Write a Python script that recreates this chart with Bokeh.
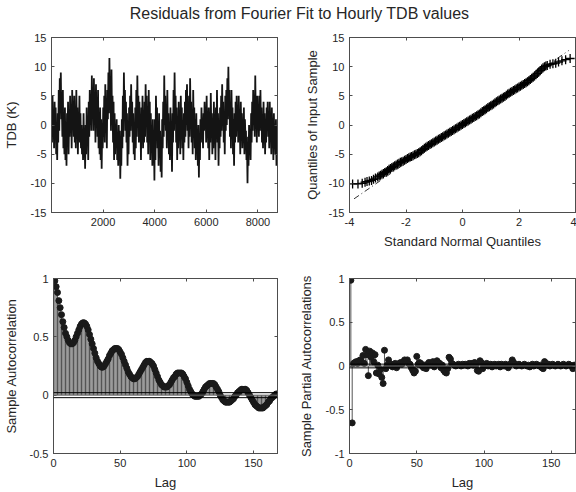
import numpy as np
from bokeh.plotting import figure
from bokeh.layouts import column, row
from bokeh.models import FixedTicker, LinearAxis, Range1d, CustomJSTickFormatter, Span
from bokeh.embed import file_html
from bokeh.resources import INLINE

# ---------------- data ----------------
title_text = "Residuals from Fourier Fit to Hourly TDB values"

# residual series, sampled evenly over hours 1..8760 (envelope of the dense trace)
tdb_values = [
    2, -3, 5, -2, 1, -4, 4, -1, 3, -5, 0, -6, 2, -3, 6, -1, 8, 2, 9, 1,
    4, -2, 6, -4, 1, -5, 3, -6, 0, -7, 2, -3, 4, -5, 1, -2, 5, -1, 3, -4,
    6, 0, 4, -2, 5, -3, 2, -4, 6, -1, 3, -5, 1, -2, 5, -3, 2, -4, 0, -5,
    -1, -6, 2, -4, -2, -7.5, 0, -5, 3, -3, 1, -6, 4, -2, 6, 0, 5, -1, 8.5, 2,
    6, -1, 8, 1, 5, -3, 7, 0, 4, -2, 6, -4, 2, -5, 3, -6, 1, -7.5, 0, -4,
    3, -2, 5, -3, 7, 0, 4, -4, 6, 1, 9, 2, 11.5, 3, 8, -1, 9.5, 0, 5, -3,
    4, -6, 2, -5, 0, -3, 1, -6, -2, -7, 0, -5, -1, -9.2, -3, -7, 1, -4, 5, -2,
    9, 2, 6, -1, 4, -3, 2, -7, -1, -5, 3, -2, 5, -1, 7, 0, 4, -3, 2, -5,
    0, -6, 3, -4, 6, -2, 8.5, 1, 5, -3, 4, -2, 1, -6, 3, -1, 5, -4, 2, -3,
    4, -2, 7, 0, 5, -3, 3, -5, 6, -1, 4, -6, 2, -4, 0, -7, 1, -5, -2, -9.5,
    1, -6, 5, -2, 3, -4, 0, -7, 2, -5, -1, -8, -3, -9, 1, -4, 4, -2, 8.5, 0,
    5, -1, 3, -4, 6, -2, 2, -5, 0, -6, 3, -4, -1, -8, 2, -3, 6, -1, 9, 1,
    5, -3, 3, -6, 1, -4, 4, -2, 2, -5, 5, -1, 3, -4, 0, -6, 2, -3, 4, -2,
    6, 0, 7, -1, 3, -4, 5, -2, 8, 1, 4, -3, 2, -5, 6, -1, 3, -4, 1, -6,
    2, -5, -1, -7, 0, -9, -2, -6, 1, -3, 3, -2, 0, -4, 2, -1, 4, 0, 3, -3,
    5, -2, 1, -4, 3, -6, 0, -3, 5.5, -1, 2, -5, 0, -4, 4, -2, 1, -6, 3, -2,
    6, -3, 2, -7, 0, -4, 3, -2, 5, -1, 7, 0, 4, -3, 2, -5, 5, -1, 6, 0,
    8, 1, 10, 2, 6, -2, 4, -4, 6, 0, 3, -5, 1, -7, 2, -3, 4, -2, 5, -1,
    3, -3, 5, -2, 1, -5, 4, -1, 2, -4, 0, -3, 3, -5, 1, -2, -1, -6, -3, -10,
    -2, -7, 0, -5, -1, -6, 2, -3, 4, -1, 6, 0, 5, -2, 8.5, 1, 4, -3, 5, 0,
    3, -2, 5, -1, 6, 0, 3, -3, 1, -4, 4, -2, 2, -5, 0, -3, 3, -1, 4, -2,
    2, -4, 4, -1, 1, -5, 3, -2, 0, -6, 2, -3, -1, -5, 1, -7, 0, -4,
]
tdb_first_hour, tdb_last_hour = 1, 8760

# QQ plot: (standard normal quantile, sample quantile)
qq_pairs = [
    (-3.89, -10.1), (-3.70, -10.1), (-3.55, -10.0), (-3.45, -9.8), (-3.38, -9.7),
    (-3.30, -9.6), (-3.22, -9.5), (-3.15, -9.3), (-3.08, -9.1),
    (-3.00, -8.9), (-2.95, -8.75), (-2.90, -8.6), (-2.85, -8.45), (-2.80, -8.3),
    (-2.75, -8.15), (-2.70, -8.0), (-2.65, -7.8), (-2.60, -7.6), (-2.55, -7.45),
    (-2.50, -7.3), (-2.45, -7.15), (-2.40, -7.0), (-2.35, -6.85), (-2.30, -6.7),
    (-2.25, -6.55), (-2.20, -6.4), (-2.15, -6.3), (-2.10, -6.2), (-2.05, -6.05),
    (-2.00, -5.9), (-1.95, -5.75), (-1.90, -5.6), (-1.85, -5.5), (-1.80, -5.4),
    (-1.75, -5.25), (-1.70, -5.1), (-1.65, -5.0), (-1.60, -4.9), (-1.55, -4.75),
    (-1.50, -4.6), (-1.45, -4.4), (-1.40, -4.2), (-1.35, -4.0), (-1.30, -3.8),
    (-1.25, -3.65), (-1.20, -3.5), (-1.15, -3.35), (-1.10, -3.2), (-1.05, -3.05),
    (-1.00, -2.9), (-0.95, -2.75), (-0.90, -2.6), (-0.85, -2.45), (-0.80, -2.3),
    (-0.75, -2.15), (-0.70, -2.0), (-0.65, -1.85), (-0.60, -1.7), (-0.55, -1.55),
    (-0.50, -1.4), (-0.45, -1.25), (-0.40, -1.1), (-0.35, -0.95), (-0.30, -0.8),
    (-0.25, -0.65), (-0.20, -0.5), (-0.15, -0.35), (-0.10, -0.2), (-0.05, -0.05),
    (0.00, 0.1), (0.05, 0.25), (0.10, 0.4), (0.15, 0.55), (0.20, 0.7),
    (0.25, 0.85), (0.30, 1.0), (0.35, 1.15), (0.40, 1.3), (0.45, 1.45),
    (0.50, 1.6), (0.55, 1.75), (0.60, 1.9), (0.65, 2.1), (0.70, 2.3),
    (0.75, 2.45), (0.80, 2.6), (0.85, 2.8), (0.90, 3.0), (0.95, 3.15),
    (1.00, 3.3), (1.05, 3.45), (1.10, 3.6), (1.15, 3.8), (1.20, 4.0),
    (1.25, 4.15), (1.30, 4.3), (1.35, 4.45), (1.40, 4.6), (1.45, 4.75),
    (1.50, 4.9), (1.55, 5.1), (1.60, 5.3), (1.65, 5.45), (1.70, 5.6),
    (1.75, 5.75), (1.80, 5.9), (1.85, 6.05), (1.90, 6.2), (1.95, 6.35),
    (2.00, 6.5), (2.05, 6.65), (2.10, 6.8), (2.15, 6.95), (2.20, 7.1),
    (2.25, 7.25), (2.30, 7.4), (2.35, 7.6), (2.40, 7.8), (2.45, 8.0),
    (2.50, 8.2), (2.55, 8.4), (2.60, 8.6), (2.65, 8.85), (2.70, 9.1),
    (2.75, 9.35), (2.80, 9.6), (2.85, 9.8), (2.90, 10.0), (2.95, 10.1),
    (3.00, 10.2), (3.10, 10.4), (3.20, 10.5), (3.30, 10.6), (3.40, 10.8),
    (3.52, 11.0), (3.65, 11.2), (3.81, 11.4),
]
qq_x = [p[0] for p in qq_pairs]
qq_y = [p[1] for p in qq_pairs]
qq_line_x = [-3.84, 3.76]
qq_line_y = [-12.66, 12.77]

# sample autocorrelation, lags 0..168
acf = [
    1.00, 0.98, 0.93, 0.88, 0.81, 0.75, 0.69, 0.63, 0.58, 0.53, 0.50, 0.47,
    0.45, 0.44, 0.44, 0.45, 0.47, 0.50, 0.53, 0.56, 0.59, 0.61, 0.62, 0.62,
    0.61, 0.59, 0.56, 0.52, 0.48, 0.44, 0.40, 0.36, 0.32, 0.29, 0.27, 0.25,
    0.24, 0.24, 0.25, 0.27, 0.29, 0.31, 0.34, 0.36, 0.38, 0.39, 0.40, 0.40,
    0.40, 0.39, 0.37, 0.35, 0.32, 0.29, 0.26, 0.23, 0.20, 0.18, 0.16, 0.15,
    0.14, 0.14, 0.15, 0.16, 0.18, 0.20, 0.22, 0.24, 0.26, 0.28, 0.29, 0.29,
    0.29, 0.28, 0.27, 0.25, 0.22, 0.19, 0.16, 0.13, 0.11, 0.09, 0.08, 0.07,
    0.07, 0.07, 0.08, 0.09, 0.11, 0.13, 0.15, 0.16, 0.18, 0.19, 0.19, 0.19,
    0.19, 0.18, 0.16, 0.14, 0.11, 0.08, 0.05, 0.03, 0.01, 0.00, -0.01, -0.01,
    -0.01, -0.01, 0.00, 0.01, 0.03, 0.05, 0.07, 0.08, 0.09, 0.10, 0.10, 0.10,
    0.10, 0.09, 0.07, 0.05, 0.03, 0.00, -0.02, -0.04, -0.05, -0.06, -0.06, -0.06,
    -0.06, -0.05, -0.04, -0.03, -0.01, 0.00, 0.02, 0.03, 0.04, 0.05, 0.05, 0.05,
    0.05, 0.04, 0.02, 0.00, -0.02, -0.04, -0.06, -0.08, -0.09, -0.10, -0.11, -0.11,
    -0.11, -0.11, -0.10, -0.09, -0.08, -0.06, -0.05, -0.03, -0.02, -0.01, 0.00, 0.01,
    0.01,
]

# sample partial autocorrelation, lags 0..168
pacf = [
    1.00, 0.98, -0.65, 0.03, 0.04, 0.05, 0.03, 0.06, 0.07, 0.05, 0.12, 0.03,
    0.19, 0.13, -0.11, 0.17, 0.10, 0.15, 0.05, 0.13, -0.08, 0.01, -0.09, -0.04,
    -0.13, -0.20, 0.18, -0.03, 0.01, 0.07, 0.01, 0.02, -0.01, 0.02, 0.03, -0.02,
    0.01, 0.03, 0.04, 0.02, 0.05, 0.07, 0.06, 0.07, 0.03, 0.02, -0.02, -0.05,
    -0.08, -0.06, 0.11, 0.02, 0.04, 0.03, 0.00, -0.02, 0.01, -0.03, 0.02, 0.04,
    0.01, 0.03, 0.05, -0.01, 0.02, 0.06, 0.04, 0.03, -0.02, 0.01, -0.05, -0.07,
    -0.08, -0.03, 0.10, 0.08, 0.03, 0.02, 0.01, 0.00, 0.01, 0.02, 0.01, 0.00,
    0.02, 0.01, 0.02, 0.01, 0.00, 0.03, 0.02, 0.03, 0.01, 0.04, 0.02, -0.05,
    -0.06, 0.06, 0.04, -0.03, 0.02, 0.01, 0.03, 0.00, 0.01, 0.02, -0.01, 0.01,
    0.02, 0.00, 0.01, 0.02, -0.01, 0.02, 0.01, 0.00, 0.02, 0.01, -0.02, 0.01,
    0.03, 0.07, 0.04, 0.02, 0.00, 0.01, 0.02, 0.01, 0.00, 0.01, 0.02, 0.01,
    0.00, 0.01, -0.01, 0.01, 0.02, 0.00, 0.01, 0.02, 0.01, 0.00, 0.01, -0.02,
    -0.03, 0.05, 0.03, 0.01, 0.02, 0.00, 0.01, 0.02, 0.01, 0.00, 0.01, 0.02,
    0.01, 0.00, 0.01, 0.02, 0.01, 0.00, 0.01, 0.02, 0.01, 0.00, -0.03, 0.01,
    0.01,
]
conf_bound = 0.0214  # approximate 95% bound drawn on ACF / PACF panels

tl_xticks = [2000, 4000, 6000, 8000]
tl_yticks = [-15, -10, -5, 0, 5, 10, 15]
tr_xticks = [-4, -2, 0, 2, 4]
tr_yticks = [-15, -10, -5, 0, 5, 10, 15]
lag_xticks = [0, 50, 100, 150]
bl_yticks = [-0.5, 0, 0.5, 1]
br_yticks = [-1, -0.5, 0, 0.5, 1]

# ---------------- styling ----------------
FONT = "Liberation Sans"
TXT = "#262626"
AX = "#4d4d4d"
TICK_FS = "11px"
LABEL_FS = "13px"


def make_fig(width, height, left, right, top, bottom, xr, yr):
    p = figure(width=width, height=height, x_range=Range1d(*xr), y_range=Range1d(*yr),
               toolbar_location=None, output_backend="svg",
               min_border_left=left, min_border_right=right,
               min_border_top=top, min_border_bottom=bottom)
    p.xgrid.visible = False
    p.ygrid.visible = False
    p.outline_line_color = AX
    p.outline_line_width = 1
    p.background_fill_color = "white"
    p.border_fill_color = "white"
    return p


def style_axis(ax, ticks, label=None, label_standoff=5):
    ax.ticker = FixedTicker(ticks=ticks)
    ax.formatter = CustomJSTickFormatter(code="return tick.toString()")
    ax.major_tick_in = 3
    ax.major_tick_out = 0
    ax.minor_tick_line_color = None
    ax.axis_line_color = AX
    ax.major_tick_line_color = AX
    ax.major_label_text_font = FONT
    ax.major_label_text_font_size = TICK_FS
    ax.major_label_text_color = TXT
    ax.major_label_standoff = 5
    if label is not None:
        ax.axis_label = label
        ax.axis_label_text_font = FONT
        ax.axis_label_text_font_size = LABEL_FS
        ax.axis_label_text_font_style = "normal"
        ax.axis_label_text_color = TXT
        ax.axis_label_standoff = label_standoff


def mirror(p, xticks, yticks):
    # tick marks on the top and right edges (no labels)
    for ticks, side in ((xticks, "above"), (yticks, "right")):
        a = LinearAxis(ticker=FixedTicker(ticks=ticks), major_label_text_font_size="0px",
                       major_label_text_color=None,
                       major_tick_in=3, major_tick_out=0, minor_tick_line_color=None,
                       axis_line_color=AX, major_tick_line_color=AX,
                       major_label_standoff=0)
        p.add_layout(a, side)


def setup(p, xticks, yticks, xlabel, ylabel, ylab_standoff):
    style_axis(p.xaxis[0], xticks, xlabel, 5)
    style_axis(p.yaxis[0], yticks, ylabel, ylab_standoff)
    mirror(p, xticks, yticks)


# ---------------- title ----------------
tp = figure(width=576, height=26, toolbar_location=None, output_backend="svg",
            x_axis_type=None, y_axis_type=None, min_border=0, min_border_left=22,
            title=title_text)
tp.title.align = "center"
tp.title.text_font = FONT
tp.title.text_font_size = "16px"
tp.title.text_font_style = "normal"
tp.title.text_color = TXT
tp.outline_line_color = None
tp.xgrid.visible = False
tp.ygrid.visible = False

# ---------------- top-left: time series ----------------
tl = make_fig(290, 229, 50, 13, 11, 43, (tdb_first_hour, tdb_last_hour), (-15, 15))
hours = np.linspace(tdb_first_hour, tdb_last_hour, len(tdb_values))
tl.line(hours, tdb_values, line_color="#141414", line_width=1.8)
setup(tl, tl_xticks, tl_yticks, None, "TDB (K)", 9)

# ---------------- top-right: QQ plot ----------------
tr = make_fig(286, 229, 59, 1, 11, 43, (-4, 4), (-15, 15))
tr.line(qq_line_x, qq_line_y, line_color="#333333", line_width=1, line_dash="6 3 1 3")
tr.scatter(qq_x, qq_y, marker="cross", size=9, line_color="black", line_width=1.3)
setup(tr, tr_xticks, tr_yticks, "Standard Normal Quantiles", "Quantiles of Input Sample", 6)

# ---------------- bottom-left: ACF ----------------
lags_acf = np.arange(len(acf))
bl = make_fig(290, 237, 50, 13, 23, 39, (0, 168), (-0.5, 1))
bl.segment(lags_acf, np.zeros(len(acf)), lags_acf, acf, line_color="#2a2a2a", line_width=0.8)
for b in (conf_bound, 0.0, -conf_bound):
    bl.add_layout(Span(location=b, dimension="width",
                       line_color="black" if b != 0 else "#666666", line_width=1))
bl.scatter(lags_acf, acf, marker="circle", size=6, fill_color="#1a1a1a", line_color="#1a1a1a")
setup(bl, lag_xticks, bl_yticks, "Lag", "Sample Autocorrelation", 8)

# ---------------- bottom-right: PACF ----------------
lags_pacf = np.arange(len(pacf))
br = make_fig(286, 237, 59, 1, 23, 39, (0, 168), (-1, 1))
br.segment(lags_pacf, np.zeros(len(pacf)), lags_pacf, pacf, line_color="#2a2a2a", line_width=0.8)
for b in (conf_bound, 0.0, -conf_bound):
    br.add_layout(Span(location=b, dimension="width",
                       line_color="black" if b != 0 else "#666666", line_width=1))
br.scatter(lags_pacf, pacf, marker="circle", size=6, fill_color="#1a1a1a", line_color="#1a1a1a")
setup(br, lag_xticks, br_yticks, "Lag", "Sample Partial Autocorrelations", 9)

layout = column(tp, row(tl, tr), row(bl, br))
open("out.html", "w").write(file_html(layout, INLINE))
